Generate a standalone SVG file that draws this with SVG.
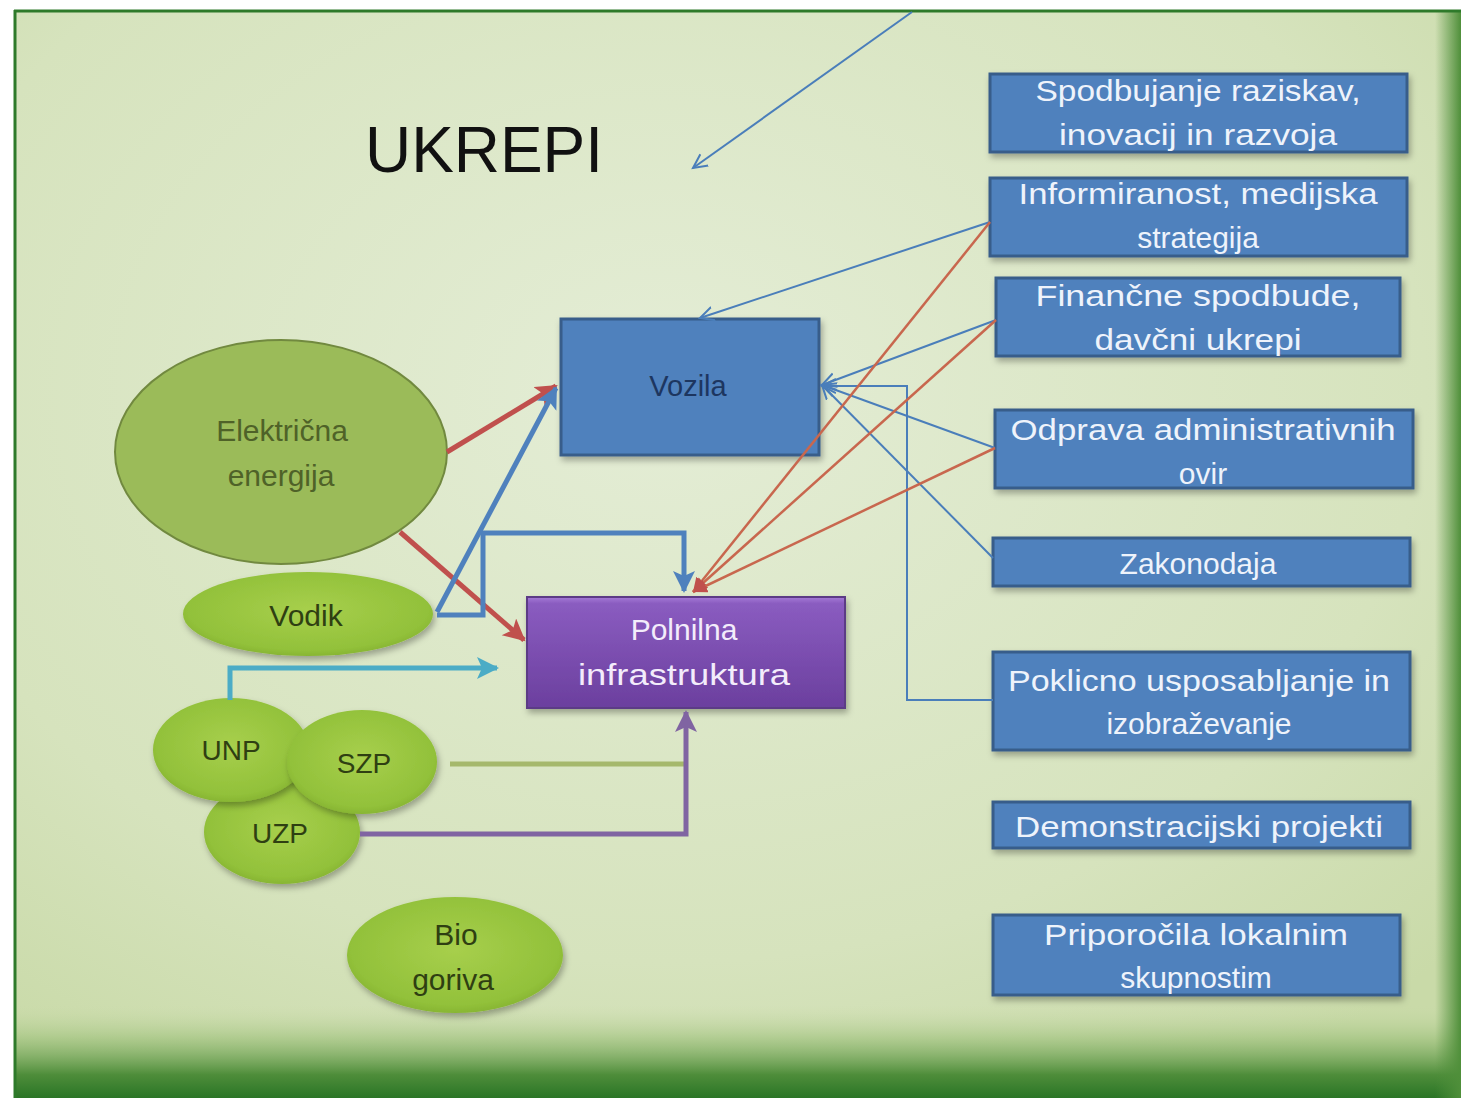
<svg xmlns="http://www.w3.org/2000/svg" width="1461" height="1101" viewBox="0 0 1461 1101">
<defs>
<style>
.box{fill:#4f81bd;stroke:#385d8a;stroke-width:3}
.bt{font-family:"Liberation Sans",Arial,sans-serif;font-size:30px;fill:#eef3fb;text-anchor:middle}
.et{font-family:"Liberation Sans",Arial,sans-serif;font-size:30px;fill:#2f3f12;text-anchor:middle}
.thin{fill:none;stroke:#4a7eba;stroke-width:2}
.thinr{fill:none;stroke:#c8674e;stroke-width:2.5}
.thick{fill:none;stroke-width:5}
</style>
<radialGradient id="bg" cx="0.45" cy="0.35" r="0.75">
<stop offset="0" stop-color="#e4edd6"/>
<stop offset="0.7" stop-color="#d6e3bd"/>
<stop offset="1" stop-color="#c9daa8"/>
</radialGradient>
<linearGradient id="bot" x1="0" y1="0" x2="0" y2="1">
<stop offset="0" stop-color="#c9daa8" stop-opacity="0"/>
<stop offset="0.35" stop-color="#9cc07a" stop-opacity="0.6"/>
<stop offset="0.75" stop-color="#4e8d3a"/>
<stop offset="1" stop-color="#2a7526"/>
</linearGradient>
<linearGradient id="rgt" x1="0" y1="0" x2="1" y2="0">
<stop offset="0" stop-color="#4f8f3a" stop-opacity="0"/>
<stop offset="1" stop-color="#4f8f3a"/>
</linearGradient>
<radialGradient id="eg" cx="0.5" cy="0.45" r="0.6">
<stop offset="0" stop-color="#a7cf4c"/>
<stop offset="0.8" stop-color="#92c13a"/>
<stop offset="1" stop-color="#80ad2e"/>
</radialGradient>
<linearGradient id="pg" x1="0" y1="0" x2="0" y2="1">
<stop offset="0" stop-color="#a57ad6"/>
<stop offset="0.06" stop-color="#8a5cc0"/>
<stop offset="1" stop-color="#6b3f9e"/>
</linearGradient>
<filter id="sh" x="-20%" y="-20%" width="140%" height="150%">
<feDropShadow dx="2" dy="4" stdDeviation="3" flood-color="#000" flood-opacity="0.3"/>
</filter>
<marker id="mR" markerUnits="userSpaceOnUse" markerWidth="26" markerHeight="26" refX="20" refY="11" orient="auto"><path d="M0,0 L22,11 L0,22 L5,11 Z" fill="#c0504d"/></marker>
<marker id="mB" markerUnits="userSpaceOnUse" markerWidth="26" markerHeight="26" refX="20" refY="11" orient="auto"><path d="M0,0 L22,11 L0,22 L5,11 Z" fill="#4f81bd"/></marker>
<marker id="mC" markerUnits="userSpaceOnUse" markerWidth="26" markerHeight="26" refX="20" refY="11" orient="auto"><path d="M0,0 L22,11 L0,22 L5,11 Z" fill="#4bacc6"/></marker>
<marker id="mP" markerUnits="userSpaceOnUse" markerWidth="26" markerHeight="26" refX="20" refY="11" orient="auto"><path d="M0,0 L22,11 L0,22 L5,11 Z" fill="#8064a2"/></marker>
<marker id="mT" markerUnits="userSpaceOnUse" markerWidth="20" markerHeight="20" refX="14" refY="8" orient="auto"><path d="M0,1 L14,8 L0,15" fill="none" stroke="#4a7eba" stroke-width="2"/></marker>
<marker id="mTr" markerUnits="userSpaceOnUse" markerWidth="20" markerHeight="20" refX="14" refY="7" orient="auto"><path d="M0,0 L14,7 L0,14 Z" fill="#c0504d"/></marker>
</defs>
<rect width="1461" height="1101" fill="#ffffff"/>
<g id="frame">
<rect x="14" y="10" width="1447" height="1088" fill="url(#bg)"/>
<rect x="14" y="1005" width="1447" height="93" fill="url(#bot)"/>
<rect x="1435" y="10" width="26" height="1088" fill="url(#rgt)"/>
<line x1="14" y1="11" x2="1461" y2="11" stroke="#2e7a2a" stroke-width="3"/>
<line x1="15" y1="10" x2="15" y2="1098" stroke="#2e7a2a" stroke-width="3"/>
</g>
<text id="title" x="365" y="172" font-family="'Liberation Sans',Arial,sans-serif" font-size="64" fill="#111" textLength="238" lengthAdjust="spacingAndGlyphs">UKREPI</text>
<g id="vozila">
<rect class="box" x="561" y="319" width="258" height="136" filter="url(#sh)"/>
<text x="688" y="396" font-family="'Liberation Sans',Arial,sans-serif" font-size="29" fill="#1d3660" text-anchor="middle">Vozila</text>
</g>
<g id="polnilna">
<rect x="527" y="597" width="318" height="111" fill="url(#pg)" stroke="#5c3a86" stroke-width="2" filter="url(#sh)"/>
<text x="684" y="640" font-family="'Liberation Sans',Arial,sans-serif" font-size="30" fill="#f3ecfb" text-anchor="middle">Polnilna</text>
<text x="684" y="685" font-family="'Liberation Sans',Arial,sans-serif" font-size="30" fill="#f3ecfb" text-anchor="middle" textLength="212" lengthAdjust="spacingAndGlyphs">infrastruktura</text>
</g>
<g id="elektricna">
<ellipse cx="281" cy="452" rx="166" ry="112" fill="#9bbb59" stroke="#71893f" stroke-width="2"/>
<text class="et" x="282" y="441" style="fill:#4f6228">Električna</text>
<text class="et" x="281" y="486" style="fill:#4f6228">energija</text>
</g>
<g id="vodik">
<ellipse cx="308" cy="614" rx="125" ry="42" fill="url(#eg)" filter="url(#sh)"/>
<text class="et" x="306" y="626">Vodik</text>
</g>
<g id="uzp">
<ellipse cx="282" cy="832" rx="78" ry="52" fill="url(#eg)" filter="url(#sh)"/>
<text class="et" x="280" y="843" style="font-size:28px">UZP</text>
</g>
<g id="unp">
<ellipse cx="231" cy="750" rx="78" ry="52" fill="url(#eg)" filter="url(#sh)"/>
<text class="et" x="231" y="760" style="font-size:28px">UNP</text>
</g>
<g id="szp">
<ellipse cx="362" cy="762" rx="75" ry="52" fill="url(#eg)" filter="url(#sh)"/>
<text class="et" x="364" y="773" style="font-size:28px">SZP</text>
</g>
<g id="bio">
<ellipse cx="455" cy="955" rx="108" ry="58" fill="url(#eg)" filter="url(#sh)"/>
<text class="et" x="456" y="945">Bio</text>
<text class="et" x="453" y="990">goriva</text>
</g>
<g id="b1">
<rect class="box" x="990" y="74" width="417" height="78" filter="url(#sh)"/>
<text class="bt" x="1198" y="101" textLength="325" lengthAdjust="spacingAndGlyphs">Spodbujanje raziskav,</text>
<text class="bt" x="1198" y="145" textLength="278" lengthAdjust="spacingAndGlyphs">inovacij  in razvoja</text>
</g>
<g id="b2">
<rect class="box" x="990" y="178" width="417" height="78" filter="url(#sh)"/>
<text class="bt" x="1198" y="204" textLength="359" lengthAdjust="spacingAndGlyphs">Informiranost, medijska</text>
<text class="bt" x="1198" y="248">strategija</text>
</g>
<g id="b3">
<rect class="box" x="996" y="278" width="404" height="78" filter="url(#sh)"/>
<text class="bt" x="1198" y="306" textLength="325" lengthAdjust="spacingAndGlyphs">Finančne  spodbude,</text>
<text class="bt" x="1198" y="350" textLength="207" lengthAdjust="spacingAndGlyphs">davčni ukrepi</text>
</g>
<g id="b4">
<rect class="box" x="995" y="410" width="418" height="78" filter="url(#sh)"/>
<text class="bt" x="1203" y="440" textLength="385" lengthAdjust="spacingAndGlyphs">Odprava administrativnih</text>
<text class="bt" x="1203" y="484">ovir</text>
</g>
<g id="b5">
<rect class="box" x="993" y="538" width="417" height="48" filter="url(#sh)"/>
<text class="bt" x="1198" y="574">Zakonodaja</text>
</g>
<g id="b6">
<rect class="box" x="993" y="652" width="417" height="98" filter="url(#sh)"/>
<text class="bt" x="1199" y="691" textLength="382" lengthAdjust="spacingAndGlyphs">Poklicno usposabljanje in</text>
<text class="bt" x="1199" y="734">izobraževanje</text>
</g>
<g id="b7">
<rect class="box" x="993" y="802" width="417" height="46" filter="url(#sh)"/>
<text class="bt" x="1199" y="837" textLength="368" lengthAdjust="spacingAndGlyphs">Demonstracijski projekti</text>
</g>
<g id="b8">
<rect class="box" x="993" y="915" width="407" height="80" filter="url(#sh)"/>
<text class="bt" x="1196" y="945" textLength="304" lengthAdjust="spacingAndGlyphs">Priporočila lokalnim</text>
<text class="bt" x="1196" y="988">skupnostim</text>
</g>
<g id="connectors">
<line class="thin" x1="912" y1="12" x2="693" y2="168" marker-end="url(#mT)"/>
<line class="thick" stroke="#c0504d" x1="447" y1="452" x2="556" y2="386" marker-end="url(#mR)"/>
<line class="thick" stroke="#c0504d" x1="400" y1="532" x2="524" y2="640" marker-end="url(#mR)"/>
<line class="thick" stroke="#4f81bd" x1="437" y1="612" x2="556" y2="388" marker-end="url(#mB)"/>
<polyline class="thick" stroke="#4f81bd" points="437,615 483,615 483,533 684,533 684,591" marker-end="url(#mB)"/>
<polyline class="thick" stroke="#4bacc6" points="230,700 230,668 497,668" marker-end="url(#mC)"/>
<line class="thick" stroke="#a5b86c" stroke-width="6" x1="450" y1="764" x2="686" y2="764"/>
<polyline class="thick" stroke="#8064a2" points="360,834 686,834 686,712" marker-end="url(#mP)"/>
<line class="thin" x1="990" y1="222" x2="700" y2="318" marker-end="url(#mT)"/>
<line class="thin" x1="996" y1="320" x2="822" y2="385" marker-end="url(#mT)"/>
<line class="thin" x1="995" y1="448" x2="822" y2="385" marker-end="url(#mT)"/>
<line class="thin" x1="993" y1="558" x2="822" y2="385" marker-end="url(#mT)"/>
<polyline class="thin" points="993,700 907,700 907,386 822,386" marker-end="url(#mT)"/>
<line class="thinr" x1="990" y1="222" x2="693" y2="592" marker-end="url(#mTr)"/>
<line class="thinr" x1="996" y1="320" x2="693" y2="592" marker-end="url(#mTr)"/>
<line class="thinr" x1="995" y1="448" x2="693" y2="592" marker-end="url(#mTr)"/>
</g>
</svg>
